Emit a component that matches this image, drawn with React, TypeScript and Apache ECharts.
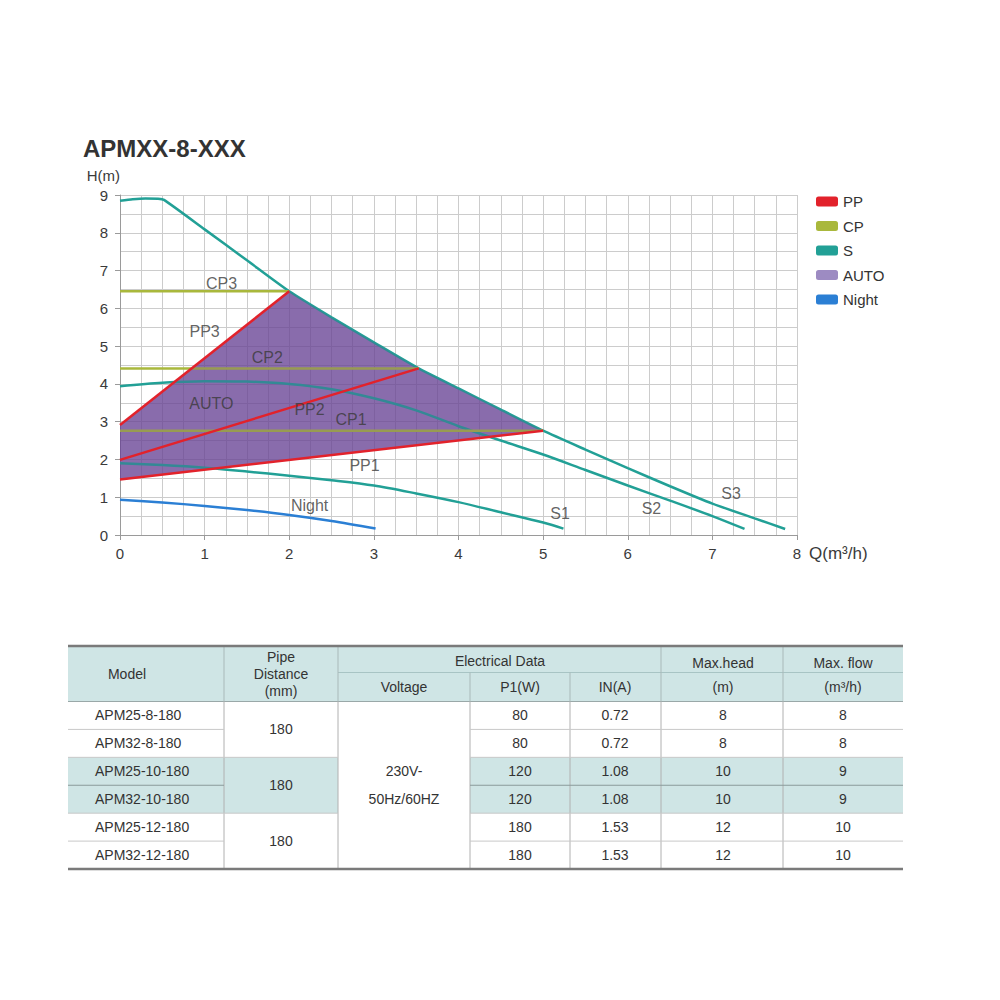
import React, { useEffect, useRef } from "react";
import * as echarts from "echarts";

// ---------- chart data ----------
const title = "APMXX-8-XXX";
const s3 = [[0, 8.85], [0.15, 8.89], [0.3, 8.91], [0.45, 8.9], [0.52, 8.87], [1, 8.09], [1.5, 7.27], [2, 6.45], [2.5, 5.76], [3, 5.1], [3.53, 4.41], [4, 3.88], [4.5, 3.32], [5, 2.76], [5.5, 2.26], [6, 1.77], [6.5, 1.29], [7, 0.83], [7.5, 0.44], [7.86, 0.16]];
const s2 = [[0, 3.94], [0.5, 4.03], [1, 4.07], [1.5, 4.06], [2, 4.0], [2.5, 3.86], [3, 3.62], [3.5, 3.3], [4, 2.88], [4.5, 2.5], [5, 2.13], [5.5, 1.72], [6, 1.31], [6.5, 0.91], [7, 0.5], [7.38, 0.16]];
const s1 = [[0, 1.9], [0.5, 1.85], [1, 1.78], [1.5, 1.68], [2, 1.57], [2.5, 1.45], [3, 1.31], [3.5, 1.1], [4, 0.87], [4.5, 0.6], [5, 0.33], [5.24, 0.17]];
const night = [[0, 0.93], [0.5, 0.86], [1, 0.77], [1.5, 0.66], [2, 0.53], [2.5, 0.37], [3.02, 0.17]];
const pp1 = [[0, 1.47], [5, 2.76]];
const pp2 = [[0, 1.99], [3.53, 4.41]];
const pp3 = [[0, 2.91], [2, 6.45]];
const cp1 = [[0, 2.76], [5, 2.76]];
const cp2 = [[0, 4.41], [3.53, 4.41]];
const cp3 = [[0, 6.45], [2, 6.45]];
const curveLabels = ["CP3", "PP3", "CP2", "AUTO", "PP2", "CP1", "PP1", "Night", "S1", "S2", "S3"];
const curveLabelPos = [[1.2, 6.67], [1.0, 5.4], [1.74, 4.71], [1.08, 3.49], [2.24, 3.31], [2.73, 3.07], [2.89, 1.85], [2.24, 0.77], [5.2, 0.58], [6.28, 0.69], [7.22, 1.09]];
const legendNames = ["PP", "CP", "S", "AUTO", "Night"];

// ---------- table data ----------
const models = ["APM25-8-180", "APM32-8-180", "APM25-10-180", "APM32-10-180", "APM25-12-180", "APM32-12-180"];
const pipeDistance = ["180", "180", "180"];
const voltageLines = ["230V-", "50Hz/60HZ"];
const p1W = ["80", "80", "120", "120", "180", "180"];
const inA = ["0.72", "0.72", "1.08", "1.08", "1.53", "1.53"];
const maxHead = ["8", "8", "10", "10", "12", "12"];
const maxFlow = ["8", "8", "9", "9", "10", "10"];

const FONT = '"Liberation Sans", Arial, sans-serif';
const C_S = "#22a096";
const C_CP = "#a9b83c";
const C_PP = "#e2222b";
const C_NIGHT = "#2b7fd4";

function autoPolygon() {
  const mid = s3.filter((p) => p[0] > pp3[1][0] && p[0] < pp1[1][0]);
  return [pp3[0], pp3[1], ...mid, pp1[1], pp1[0]];
}

function tableGraphics() {
  const xs = [68, 224, 338, 470, 570, 661, 783, 903];
  const top = 646;
  const hMid = 672.5;
  const hBot = 701.5;
  const rowH = 27.92;
  const ry = (i: number) => hBot + i * rowH;
  const teal = "#cfe5e5";
  const els: any[] = [];
  const rect = (x: number, y: number, w: number, h: number, fill: string) =>
    els.push({ type: "rect", shape: { x, y, width: w, height: h }, style: { fill }, z: 1 });
  const line = (x1: number, y1: number, x2: number, y2: number, stroke: string, lw = 1) =>
    els.push({ type: "line", shape: { x1, y1, x2, y2 }, style: { stroke, lineWidth: lw }, z: 2 });
  const text = (t: string, x: number, y: number, align = "center") =>
    els.push({ type: "text", x, y, style: { text: t, fill: "#333", font: `14px ${FONT}`, align, verticalAlign: "middle" }, z: 3 });

  // backgrounds
  rect(xs[0], top, xs[7] - xs[0], hBot - top, teal);
  rect(xs[0], ry(2), xs[2] - xs[0], rowH * 2, teal);
  rect(xs[3], ry(2), xs[7] - xs[3], rowH * 2, teal);

  // header lines
  line(xs[2], hMid, xs[7], hMid, "#a8c4c4");
  line(xs[0], hBot, xs[7], hBot, "#9aa8a8");
  [xs[1], xs[2], xs[5], xs[6]].forEach((x) => line(x, top, x, hBot, "#a9b9b9"));
  [xs[3], xs[4]].forEach((x) => line(x, hMid, x, hBot, "#a9b9b9"));
  // body vertical lines
  xs.slice(1, 7).forEach((x) => line(x, hBot, x, ry(6), "#b0b0b0"));
  // body horizontal lines
  for (let i = 1; i < 6; i++) {
    const y = ry(i);
    const pairBreak = i % 2 === 0;
    const col = i === 3 ? "#8a9a9a" : "#c8c8c8";
    line(xs[0], y, pairBreak ? xs[2] : xs[1], y, col);
    line(xs[3], y, xs[7], y, col);
  }
  // thick borders
  line(xs[0], top, xs[7], top, "#7a7a7a", 2.5);
  line(xs[0], ry(6), xs[7], ry(6), "#7a7a7a", 2.5);

  // header texts
  text("Model", 127, 674);
  text("Pipe", 281, 657);
  text("Distance", 281, 674);
  text("(mm)", 281, 691);
  text("Electrical Data", 500, 661);
  text("Voltage", 404, 687);
  text("P1(W)", 520, 687);
  text("IN(A)", 615, 687);
  text("Max.head", 723, 663);
  text("(m)", 723, 687);
  text("Max. flow", 843, 663);
  text("(m³/h)", 843, 687);

  // body texts
  models.forEach((m, i) => {
    const cy = ry(i) + rowH / 2;
    text(m, 95, cy, "left");
    text(p1W[i], 520, cy);
    text(inA[i], 615, cy);
    text(maxHead[i], 723, cy);
    text(maxFlow[i], 843, cy);
  });
  pipeDistance.forEach((p, g) => text(p, 281, ry(g * 2 + 1)));
  voltageLines.forEach((v, k) => text(v, 404, ry(2) + 14 + k * 28));
  return els;
}

function lineSeries(name: string, data: number[][], color: string, smooth: number | boolean, z: number) {
  return {
    type: "line",
    name,
    data,
    color,
    smooth,
    symbol: "none",
    lineStyle: { color, width: 2.5 },
    itemStyle: { color },
    z,
    silent: true,
  };
}

function autoSeries(poly: number[][], fill: string, z: number) {
  return {
    type: "custom",
    name: "AUTO",
    coordinateSystem: "cartesian2d",
    data: [poly[0]],
    itemStyle: { color: "#9d8bc2" },
    silent: true,
    z,
    renderItem: (_p: any, api: any) => ({
      type: "polygon",
      shape: { points: poly.map((pt) => api.coord(pt)) },
      style: { fill },
    }),
  };
}

export default function App() {
  const ref = useRef<HTMLDivElement>(null);
  useEffect(() => {
    if (!ref.current) return;
    const chart = echarts.init(ref.current, undefined, { renderer: "svg" });
    const poly = autoPolygon();
    const axisText = { fontSize: 15, color: "#3a3a3a", fontFamily: FONT };
    chart.setOption({
      animation: false,
      backgroundColor: "#ffffff",
      textStyle: { fontFamily: FONT },
      title: {
        text: title,
        left: 83,
        top: 136,
        padding: 0,
        textStyle: { fontSize: 24, fontWeight: "bold", color: "#333", fontFamily: FONT },
      },
      legend: {
        data: legendNames.map((n) => (n === "AUTO" ? { name: n, itemStyle: { color: "#9d8bc2" } } : n)),
        orient: "vertical",
        left: 811,
        top: 189,
        icon: "roundRect",
        itemWidth: 22,
        itemHeight: 10,
        itemGap: 9.5,
        selectedMode: false,
        textStyle: { fontSize: 15, color: "#333", fontFamily: FONT },
      },
      grid: { left: 120, top: 195, width: 677, height: 340 },
      xAxis: {
        type: "value",
        min: 0,
        max: 8,
        interval: 1,
        name: "Q(m³/h)",
        nameLocation: "end",
        nameGap: 12,
        nameTextStyle: { ...axisText, fontSize: 17, verticalAlign: "top", padding: [10, 0, 0, 0] },
        axisLine: { show: true, lineStyle: { color: "#9a9a9a" } },
        axisTick: { show: true, length: 5, lineStyle: { color: "#9a9a9a" } },
        axisLabel: { ...axisText, margin: 11 },
        splitLine: { show: true, lineStyle: { color: "#cccccc" } },
        minorTick: { show: false, splitNumber: 4 },
        minorSplitLine: { show: true, lineStyle: { color: "#cccccc" } },
      },
      yAxis: {
        type: "value",
        min: 0,
        max: 9,
        interval: 1,
        name: "H(m)",
        nameLocation: "end",
        nameGap: 12,
        nameTextStyle: { ...axisText, fontSize: 15, align: "right" },
        axisLine: { show: true, lineStyle: { color: "#9a9a9a" } },
        axisTick: { show: true, length: 5, lineStyle: { color: "#9a9a9a" } },
        axisLabel: { ...axisText, margin: 12 },
        splitLine: { show: true, lineStyle: { color: "#cccccc" } },
        minorTick: { show: false, splitNumber: 2 },
        minorSplitLine: { show: true, lineStyle: { color: "#cccccc" } },
      },
      series: [
        autoSeries(poly, "rgba(104,66,148,0.7)", 1),
        lineSeries("S", s3, C_S, 0.2, 2),
        lineSeries("S", s2, C_S, 0.3, 2),
        lineSeries("S", s1, C_S, 0.3, 2),
        lineSeries("Night", night, C_NIGHT, 0.3, 2),
        lineSeries("CP", cp1, C_CP, false, 2),
        lineSeries("CP", cp2, C_CP, false, 2),
        lineSeries("CP", cp3, C_CP, false, 2),
        autoSeries(poly, "rgba(104,66,148,0.25)", 3),
        lineSeries("PP", pp1, C_PP, false, 4),
        lineSeries("PP", pp2, C_PP, false, 4),
        lineSeries("PP", pp3, C_PP, false, 4),
        {
          type: "scatter",
          name: "labels",
          symbolSize: 1,
          itemStyle: { color: "rgba(0,0,0,0)" },
          silent: true,
          z: 5,
          label: {
            show: true,
            position: "inside",
            formatter: "{b}",
            fontSize: 16,
            color: "#3a3a3a",
            fontFamily: FONT,
          },
          data: curveLabels.map((n, i) => ({ name: n, value: curveLabelPos[i] })),
        },
      ],
      graphic: tableGraphics(),
    });
    return () => chart.dispose();
  }, []);
  return (
    <div
      ref={ref}
      style={{ position: "absolute", left: 0, top: 0, width: 1000, height: 1000, background: "#fff" }}
    />
  );
}
